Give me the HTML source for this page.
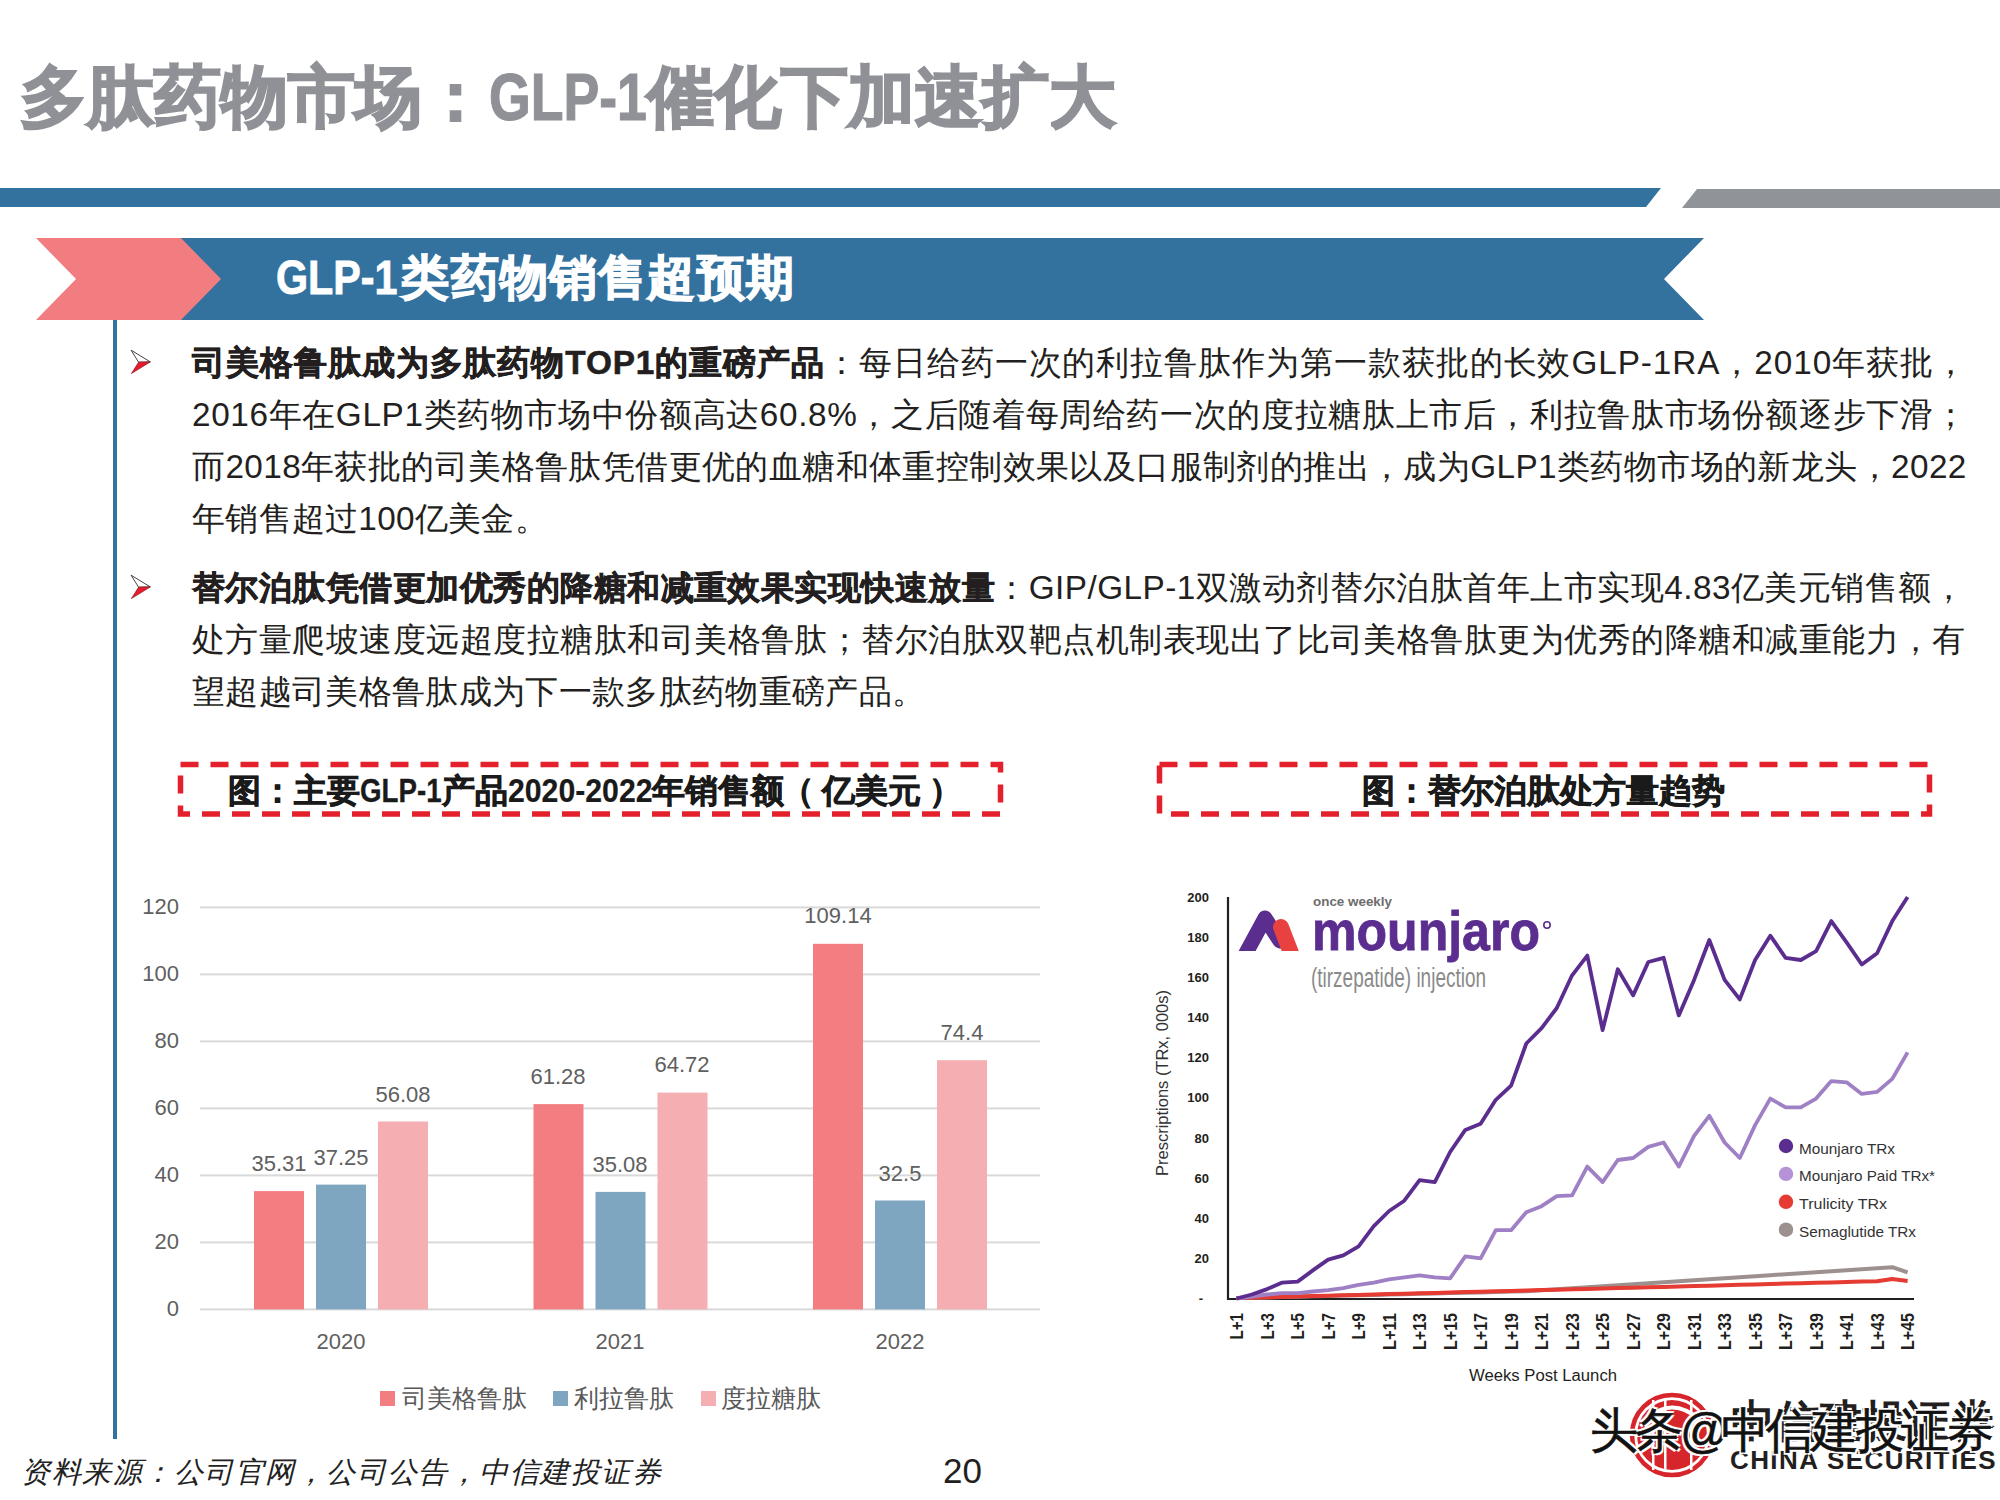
<!DOCTYPE html>
<html><head><meta charset="utf-8">
<style>
html,body{margin:0;padding:0;background:#fff;}
body{width:2000px;height:1500px;position:relative;overflow:hidden;font-family:"Liberation Sans", sans-serif;}
.a{position:absolute;white-space:nowrap;}
.b{font-weight:bold;-webkit-text-stroke:0.6px #231f20;}
.ln{font-size:33.3px;color:#231f20;line-height:40px;}
.dl{font-size:22px;color:#606060;line-height:26px;}
</style></head><body>
<div class="a" id="title" style="left:20px;top:52px;font-size:67px;font-weight:bold;color:#8f9196;line-height:90px;"><span style="-webkit-text-stroke:2px #8f9196">多肽药物市场：</span><span style="display:inline-block;transform:scaleX(0.80);transform-origin:0 0;margin-right:-39px;-webkit-text-stroke:1.2px #8f9196">GLP-1</span><span style="-webkit-text-stroke:2px #8f9196">催化下加速扩大</span></div><svg class="a" style="left:0;top:0" width="2000" height="340">
<polygon points="0,188 1661,188 1646,207 0,207" fill="#33729f"/>
<polygon points="1697,189 2000,189 2000,208 1682,208" fill="#909397"/>
<polygon points="180,238 1704,238 1664,279 1704,320 180,320 220,279" fill="#33729f"/>
<polygon points="36,238 181,238 221,279 181,320 36,320 76,279" fill="#f27d80"/>
</svg><div class="a" id="sub" style="left:276px;top:244.5px;font-size:48px;font-weight:bold;color:#fff;line-height:66px;"><span style="display:inline-block;transform:scaleX(0.86);transform-origin:0 0;margin-right:-16px;-webkit-text-stroke:0.8px #fff">GLP-1</span><span style="-webkit-text-stroke:1.3px #fff;letter-spacing:1.2px">类药物销售超预期</span></div><div class="a" style="left:113px;top:320px;width:4px;height:1119px;background:#33729f"></div><svg class="a" style="left:128px;top:347px" width="26" height="30" viewBox="128 347 26 30">
<polygon points="131.1,350.2 150.3,361.9 138.6,362.2" fill="#fff" stroke="#3a2a2a" stroke-width="0.9"/>
<polygon points="138.6,362.2 150.3,361.9 131.4,373.6" fill="#e8192c" stroke="#8a1a20" stroke-width="0.7"/>
</svg><svg class="a" style="left:128px;top:571.8px" width="26" height="30" viewBox="128 571.8 26 30">
<polygon points="131.1,575.0 150.3,586.6999999999999 138.6,587.0" fill="#fff" stroke="#3a2a2a" stroke-width="0.9"/>
<polygon points="138.6,587.0 150.3,586.6999999999999 131.4,598.4" fill="#e8192c" stroke="#8a1a20" stroke-width="0.7"/>
</svg><div class="a ln" id="ln0" style="left:192px;top:343.2px;letter-spacing:0.93px"><span class="b">司美格鲁肽成为多肽药物TOP1的重磅产品</span>：每日给药一次的利拉鲁肽作为第一款获批的长效GLP-1RA，2010年获批，</div><div class="a ln" id="ln1" style="left:192px;top:395px;letter-spacing:0.632px">2016年在GLP1类药物市场中份额高达60.8%，之后随着每周给药一次的度拉糖肽上市后，利拉鲁肽市场份额逐步下滑；</div><div class="a ln" id="ln2" style="left:192px;top:446.5px;letter-spacing:0.404px">而2018年获批的司美格鲁肽凭借更优的血糖和体重控制效果以及口服制剂的推出，成为GLP1类药物市场的新龙头，2022</div><div class="a ln" id="ln3" style="left:192px;top:498.8px;letter-spacing:0.273px">年销售超过100亿美金。</div><div class="a ln" id="ln4" style="left:192px;top:568px;letter-spacing:0.466px"><span class="b">替尔泊肽凭借更加优秀的降糖和减重效果实现快速放量</span>：GIP/GLP-1双激动剂替尔泊肽首年上市实现4.83亿美元销售额，</div><div class="a ln" id="ln5" style="left:192px;top:619.5px;letter-spacing:0.471px">处方量爬坡速度远超度拉糖肽和司美格鲁肽；替尔泊肽双靶点机制表现出了比司美格鲁肽更为优秀的降糖和减重能力，有</div><div class="a ln" id="ln6" style="left:192px;top:671.5px;letter-spacing:0.333px">望超越司美格鲁肽成为下一款多肽药物重磅产品。</div><svg class="a" style="left:0;top:740px" width="2000" height="100">
<rect x="180.5" y="24.5" width="820" height="49.5" fill="none" stroke="#e3202b" stroke-width="5.5" stroke-dasharray="18 12"/>
<rect x="1159.5" y="24.5" width="770" height="49.5" fill="none" stroke="#e3202b" stroke-width="5.5" stroke-dasharray="18 12"/>
</svg><div class="a" id="ct1" style="left:228px;top:770px;font-size:33px;font-weight:bold;color:#1a1a1a;line-height:42px;"><span style="-webkit-text-stroke:0.7px #1a1a1a">图：主要</span><span style="display:inline-block;transform:scaleX(0.84);transform-origin:0 0;margin-right:-15.5px;-webkit-text-stroke:0.3px #1a1a1a">GLP-1</span><span style="-webkit-text-stroke:0.7px #1a1a1a">产品</span><span style="display:inline-block;transform:scaleX(0.916);transform-origin:0 0;margin-right:-13.3px;-webkit-text-stroke:0.2px #1a1a1a">2020-2022</span><span style="-webkit-text-stroke:0.7px #1a1a1a">年销售额<span style="margin-left:-3px;margin-right:8px">（</span>亿美元<span style="margin-left:8px">）</span></span></div><div class="a" id="ct2" style="left:1362px;top:770px;font-size:33px;font-weight:bold;color:#1a1a1a;-webkit-text-stroke:0.7px #1a1a1a;line-height:42px;">图：替尔泊肽处方量趋势</div><svg class="a" style="left:0;top:0" width="2000" height="1500"><rect x="200" y="1308.4" width="840" height="2" fill="#d9d9d9"/><rect x="200" y="1241.4" width="840" height="2" fill="#d9d9d9"/><rect x="200" y="1174.4" width="840" height="2" fill="#d9d9d9"/><rect x="200" y="1107.4" width="840" height="2" fill="#d9d9d9"/><rect x="200" y="1040.4" width="840" height="2" fill="#d9d9d9"/><rect x="200" y="973.4" width="840" height="2" fill="#d9d9d9"/><rect x="200" y="906.4" width="840" height="2" fill="#d9d9d9"/><rect x="254.0" y="1191.1" width="50" height="118.3" fill="#f27e82"/><rect x="316.0" y="1184.6" width="50" height="124.8" fill="#7fa6c0"/><rect x="378.0" y="1121.5" width="50" height="187.9" fill="#f5aeb1"/><rect x="533.5" y="1104.1" width="50" height="205.3" fill="#f27e82"/><rect x="595.5" y="1191.9" width="50" height="117.5" fill="#7fa6c0"/><rect x="657.5" y="1092.6" width="50" height="216.8" fill="#f5aeb1"/><rect x="813.0" y="943.8" width="50" height="365.6" fill="#f27e82"/><rect x="875.0" y="1200.5" width="50" height="108.9" fill="#7fa6c0"/><rect x="937.0" y="1060.2" width="50" height="249.2" fill="#f5aeb1"/></svg><div class="a dl" style="left:100px;width:79px;text-align:right;top:1296.4px">0</div><div class="a dl" style="left:100px;width:79px;text-align:right;top:1229.4px">20</div><div class="a dl" style="left:100px;width:79px;text-align:right;top:1162.4px">40</div><div class="a dl" style="left:100px;width:79px;text-align:right;top:1095.4px">60</div><div class="a dl" style="left:100px;width:79px;text-align:right;top:1028.4px">80</div><div class="a dl" style="left:100px;width:79px;text-align:right;top:961.4px">100</div><div class="a dl" style="left:100px;width:79px;text-align:right;top:894.4px">120</div><div class="a dl" style="left:219px;width:120px;text-align:center;top:1151px">35.31</div><div class="a dl" style="left:281px;width:120px;text-align:center;top:1145px">37.25</div><div class="a dl" style="left:343px;width:120px;text-align:center;top:1082px">56.08</div><div class="a dl" style="left:498px;width:120px;text-align:center;top:1064px">61.28</div><div class="a dl" style="left:560px;width:120px;text-align:center;top:1152px">35.08</div><div class="a dl" style="left:622px;width:120px;text-align:center;top:1052px">64.72</div><div class="a dl" style="left:778px;width:120px;text-align:center;top:903px">109.14</div><div class="a dl" style="left:840px;width:120px;text-align:center;top:1161px">32.5</div><div class="a dl" style="left:902px;width:120px;text-align:center;top:1020px">74.4</div><div class="a dl" style="left:281px;width:120px;text-align:center;top:1329px">2020</div><div class="a dl" style="left:560px;width:120px;text-align:center;top:1329px">2021</div><div class="a dl" style="left:840px;width:120px;text-align:center;top:1329px">2022</div><div class="a" style="left:380px;top:1391px;width:15px;height:15px;background:#f27e82"></div><div class="a" style="left:402px;top:1381px;font-size:25px;color:#595959;line-height:34px">司美格鲁肽</div><div class="a" style="left:553px;top:1391px;width:15px;height:15px;background:#7fa6c0"></div><div class="a" style="left:574px;top:1381px;font-size:25px;color:#595959;line-height:34px">利拉鲁肽</div><div class="a" style="left:701px;top:1391px;width:15px;height:15px;background:#f5aeb1"></div><div class="a" style="left:721px;top:1381px;font-size:25px;color:#595959;line-height:34px">度拉糖肽</div><svg class="a" style="left:1130px;top:860px" width="830" height="540" viewBox="1130 860 830 540"><path d="M1228,897 L1228,1299 L1914,1299" fill="none" stroke="#231f20" stroke-width="2.2"/><text x="1209" y="1262.9" text-anchor="end" font-family="Liberation Sans" font-weight="bold" font-size="13" fill="#231f20">20</text><text x="1209" y="1222.8" text-anchor="end" font-family="Liberation Sans" font-weight="bold" font-size="13" fill="#231f20">40</text><text x="1209" y="1182.6" text-anchor="end" font-family="Liberation Sans" font-weight="bold" font-size="13" fill="#231f20">60</text><text x="1209" y="1142.5" text-anchor="end" font-family="Liberation Sans" font-weight="bold" font-size="13" fill="#231f20">80</text><text x="1209" y="1102.3" text-anchor="end" font-family="Liberation Sans" font-weight="bold" font-size="13" fill="#231f20">100</text><text x="1209" y="1062.2" text-anchor="end" font-family="Liberation Sans" font-weight="bold" font-size="13" fill="#231f20">120</text><text x="1209" y="1022.1" text-anchor="end" font-family="Liberation Sans" font-weight="bold" font-size="13" fill="#231f20">140</text><text x="1209" y="981.9" text-anchor="end" font-family="Liberation Sans" font-weight="bold" font-size="13" fill="#231f20">160</text><text x="1209" y="941.8" text-anchor="end" font-family="Liberation Sans" font-weight="bold" font-size="13" fill="#231f20">180</text><text x="1209" y="901.6" text-anchor="end" font-family="Liberation Sans" font-weight="bold" font-size="13" fill="#231f20">200</text><text x="1203" y="1302.5" text-anchor="end" font-family="Liberation Sans" font-weight="bold" font-size="13" fill="#231f20">-</text><text transform="translate(1243.1,1339.4) rotate(-90)" font-family="Liberation Sans" font-weight="bold" font-size="17.5" fill="#231f20" textLength="26.4" lengthAdjust="spacingAndGlyphs">L+1</text><text transform="translate(1273.6,1339.4) rotate(-90)" font-family="Liberation Sans" font-weight="bold" font-size="17.5" fill="#231f20" textLength="26.4" lengthAdjust="spacingAndGlyphs">L+3</text><text transform="translate(1304.1,1339.4) rotate(-90)" font-family="Liberation Sans" font-weight="bold" font-size="17.5" fill="#231f20" textLength="26.4" lengthAdjust="spacingAndGlyphs">L+5</text><text transform="translate(1334.6,1339.4) rotate(-90)" font-family="Liberation Sans" font-weight="bold" font-size="17.5" fill="#231f20" textLength="26.4" lengthAdjust="spacingAndGlyphs">L+7</text><text transform="translate(1365.1,1339.4) rotate(-90)" font-family="Liberation Sans" font-weight="bold" font-size="17.5" fill="#231f20" textLength="26.4" lengthAdjust="spacingAndGlyphs">L+9</text><text transform="translate(1395.6,1350.0) rotate(-90)" font-family="Liberation Sans" font-weight="bold" font-size="17.5" fill="#231f20" textLength="37" lengthAdjust="spacingAndGlyphs">L+11</text><text transform="translate(1426.1,1350.0) rotate(-90)" font-family="Liberation Sans" font-weight="bold" font-size="17.5" fill="#231f20" textLength="37" lengthAdjust="spacingAndGlyphs">L+13</text><text transform="translate(1456.6,1350.0) rotate(-90)" font-family="Liberation Sans" font-weight="bold" font-size="17.5" fill="#231f20" textLength="37" lengthAdjust="spacingAndGlyphs">L+15</text><text transform="translate(1487.1,1350.0) rotate(-90)" font-family="Liberation Sans" font-weight="bold" font-size="17.5" fill="#231f20" textLength="37" lengthAdjust="spacingAndGlyphs">L+17</text><text transform="translate(1517.6,1350.0) rotate(-90)" font-family="Liberation Sans" font-weight="bold" font-size="17.5" fill="#231f20" textLength="37" lengthAdjust="spacingAndGlyphs">L+19</text><text transform="translate(1548.1,1350.0) rotate(-90)" font-family="Liberation Sans" font-weight="bold" font-size="17.5" fill="#231f20" textLength="37" lengthAdjust="spacingAndGlyphs">L+21</text><text transform="translate(1578.6,1350.0) rotate(-90)" font-family="Liberation Sans" font-weight="bold" font-size="17.5" fill="#231f20" textLength="37" lengthAdjust="spacingAndGlyphs">L+23</text><text transform="translate(1609.1,1350.0) rotate(-90)" font-family="Liberation Sans" font-weight="bold" font-size="17.5" fill="#231f20" textLength="37" lengthAdjust="spacingAndGlyphs">L+25</text><text transform="translate(1639.6,1350.0) rotate(-90)" font-family="Liberation Sans" font-weight="bold" font-size="17.5" fill="#231f20" textLength="37" lengthAdjust="spacingAndGlyphs">L+27</text><text transform="translate(1670.1,1350.0) rotate(-90)" font-family="Liberation Sans" font-weight="bold" font-size="17.5" fill="#231f20" textLength="37" lengthAdjust="spacingAndGlyphs">L+29</text><text transform="translate(1700.6,1350.0) rotate(-90)" font-family="Liberation Sans" font-weight="bold" font-size="17.5" fill="#231f20" textLength="37" lengthAdjust="spacingAndGlyphs">L+31</text><text transform="translate(1731.1,1350.0) rotate(-90)" font-family="Liberation Sans" font-weight="bold" font-size="17.5" fill="#231f20" textLength="37" lengthAdjust="spacingAndGlyphs">L+33</text><text transform="translate(1761.6,1350.0) rotate(-90)" font-family="Liberation Sans" font-weight="bold" font-size="17.5" fill="#231f20" textLength="37" lengthAdjust="spacingAndGlyphs">L+35</text><text transform="translate(1792.1,1350.0) rotate(-90)" font-family="Liberation Sans" font-weight="bold" font-size="17.5" fill="#231f20" textLength="37" lengthAdjust="spacingAndGlyphs">L+37</text><text transform="translate(1822.6,1350.0) rotate(-90)" font-family="Liberation Sans" font-weight="bold" font-size="17.5" fill="#231f20" textLength="37" lengthAdjust="spacingAndGlyphs">L+39</text><text transform="translate(1853.1,1350.0) rotate(-90)" font-family="Liberation Sans" font-weight="bold" font-size="17.5" fill="#231f20" textLength="37" lengthAdjust="spacingAndGlyphs">L+41</text><text transform="translate(1883.6,1350.0) rotate(-90)" font-family="Liberation Sans" font-weight="bold" font-size="17.5" fill="#231f20" textLength="37" lengthAdjust="spacingAndGlyphs">L+43</text><text transform="translate(1914.1,1350.0) rotate(-90)" font-family="Liberation Sans" font-weight="bold" font-size="17.5" fill="#231f20" textLength="37" lengthAdjust="spacingAndGlyphs">L+45</text><text x="1469" y="1381" font-family="Liberation Sans" font-size="16" fill="#231f20" textLength="148" lengthAdjust="spacingAndGlyphs">Weeks Post Launch</text><text transform="translate(1168,1176) rotate(-90)" font-family="Liberation Sans" font-size="16" fill="#333" textLength="186" lengthAdjust="spacingAndGlyphs">Prescriptions (TRx, 000s)</text><path d="M1236.6,1298.1 L1251.8,1297.8 L1267.1,1297.4 L1282.3,1297.1 L1297.6,1296.7 L1312.8,1296.3 L1328.1,1296.0 L1343.3,1295.6 L1358.6,1295.2 L1373.8,1294.9 L1389.1,1294.5 L1404.3,1294.2 L1419.6,1293.8 L1434.8,1293.4 L1450.1,1293.1 L1465.3,1292.7 L1480.6,1292.4 L1495.8,1292.0 L1511.1,1291.6 L1526.3,1291.3 L1541.6,1290.3 L1556.8,1289.3 L1572.1,1288.3 L1587.3,1287.3 L1602.6,1286.3 L1617.8,1285.3 L1633.1,1284.2 L1648.3,1283.2 L1663.6,1282.2 L1678.8,1281.2 L1694.1,1280.2 L1709.3,1279.2 L1724.6,1278.2 L1739.8,1277.2 L1755.1,1276.2 L1770.3,1275.2 L1785.6,1274.2 L1800.8,1273.2 L1816.1,1272.2 L1831.3,1271.2 L1846.6,1270.2 L1861.8,1269.2 L1877.1,1268.2 L1892.3,1267.2 L1907.6,1272.4" fill="none" stroke="#9c918e" stroke-width="4" stroke-linejoin="round"/><path d="M1236.6,1298.1 L1251.8,1297.7 L1267.1,1297.3 L1282.3,1296.9 L1297.6,1296.5 L1312.8,1296.1 L1328.1,1295.7 L1343.3,1295.3 L1358.6,1294.9 L1373.8,1294.5 L1389.1,1294.1 L1404.3,1293.7 L1419.6,1293.3 L1434.8,1292.9 L1450.1,1292.5 L1465.3,1292.1 L1480.6,1291.7 L1495.8,1291.3 L1511.1,1290.9 L1526.3,1290.5 L1541.6,1290.1 L1556.8,1289.7 L1572.1,1289.3 L1587.3,1288.9 L1602.6,1288.5 L1617.8,1288.1 L1633.1,1287.7 L1648.3,1287.3 L1663.6,1286.9 L1678.8,1286.5 L1694.1,1286.1 L1709.3,1285.7 L1724.6,1285.3 L1739.8,1284.8 L1755.1,1284.4 L1770.3,1284.0 L1785.6,1283.6 L1800.8,1283.2 L1816.1,1282.8 L1831.3,1282.4 L1846.6,1282.0 L1861.8,1281.6 L1877.1,1281.2 L1892.3,1279.0 L1907.6,1281.0" fill="none" stroke="#e53b33" stroke-width="4" stroke-linejoin="round"/><path d="M1236.6,1298.5 L1251.8,1296.5 L1267.1,1294.5 L1282.3,1293.1 L1297.6,1293.1 L1312.8,1291.5 L1328.1,1290.1 L1343.3,1288.1 L1358.6,1284.8 L1373.8,1282.6 L1389.1,1279.4 L1404.3,1277.4 L1419.6,1275.4 L1434.8,1277.4 L1450.1,1278.4 L1465.3,1256.3 L1480.6,1258.3 L1495.8,1230.2 L1511.1,1230.2 L1526.3,1212.2 L1541.6,1206.2 L1556.8,1196.1 L1572.1,1195.3 L1587.3,1166.6 L1602.6,1182.1 L1617.8,1160.0 L1633.1,1158.0 L1648.3,1146.9 L1663.6,1142.5 L1678.8,1166.6 L1694.1,1135.9 L1709.3,1115.8 L1724.6,1142.5 L1739.8,1158.0 L1755.1,1125.1 L1770.3,1098.6 L1785.6,1107.4 L1800.8,1107.4 L1816.1,1098.6 L1831.3,1081.1 L1846.6,1082.3 L1861.8,1093.9 L1877.1,1091.9 L1892.3,1078.9 L1907.6,1052.4" fill="none" stroke="#a080c4" stroke-width="3.8" stroke-linejoin="round"/><path d="M1236.6,1298.5 L1251.8,1294.5 L1267.1,1289.1 L1282.3,1282.6 L1297.6,1281.6 L1312.8,1270.4 L1328.1,1259.6 L1343.3,1255.3 L1358.6,1246.3 L1373.8,1226.2 L1389.1,1211.0 L1404.3,1200.7 L1419.6,1180.1 L1434.8,1182.1 L1450.1,1152.0 L1465.3,1129.9 L1480.6,1123.8 L1495.8,1099.8 L1511.1,1085.7 L1526.3,1043.5 L1541.6,1028.1 L1556.8,1008.0 L1572.1,975.3 L1587.3,955.6 L1602.6,1030.1 L1617.8,969.3 L1633.1,995.4 L1648.3,962.0 L1663.6,957.8 L1678.8,1015.4 L1694.1,979.9 L1709.3,940.0 L1724.6,979.9 L1739.8,999.4 L1755.1,960.0 L1770.3,935.7 L1785.6,957.8 L1800.8,960.0 L1816.1,951.2 L1831.3,921.1 L1846.6,942.4 L1861.8,964.5 L1877.1,953.2 L1892.3,921.1 L1907.6,897.0" fill="none" stroke="#5a2d8f" stroke-width="3.8" stroke-linejoin="round"/><circle cx="1786" cy="1146.0" r="7.2" fill="#5a2d8f"/><text x="1799" y="1153.5" font-family="Liberation Sans" font-size="14.5" fill="#333" textLength="96" lengthAdjust="spacingAndGlyphs">Mounjaro TRx</text><circle cx="1786" cy="1173.9" r="7.2" fill="#b593d6"/><text x="1799" y="1181.4" font-family="Liberation Sans" font-size="14.5" fill="#333" textLength="136" lengthAdjust="spacingAndGlyphs">Mounjaro Paid TRx*</text><circle cx="1786" cy="1201.8" r="7.2" fill="#e53b33"/><text x="1799" y="1209.3" font-family="Liberation Sans" font-size="14.5" fill="#333" textLength="88" lengthAdjust="spacingAndGlyphs">Trulicity TRx</text><circle cx="1786" cy="1229.7" r="7.2" fill="#9c918e"/><text x="1799" y="1237.2" font-family="Liberation Sans" font-size="14.5" fill="#333" textLength="117" lengthAdjust="spacingAndGlyphs">Semaglutide TRx</text><text x="1313" y="906" font-family="Liberation Sans" font-weight="bold" font-size="12.5" fill="#6d6d6d" textLength="79" lengthAdjust="spacingAndGlyphs">once weekly</text><text x="1312" y="950" font-family="Liberation Sans" font-weight="bold" font-size="56" fill="#5a2d8f" stroke="#5a2d8f" stroke-width="0.8" textLength="228" lengthAdjust="spacingAndGlyphs">mounjaro</text><circle cx="1547" cy="925" r="3.2" fill="none" stroke="#5a2d8f" stroke-width="1.6"/><text x="1311" y="987" font-family="Liberation Sans" font-size="27" fill="#8a8a8a" textLength="175" lengthAdjust="spacingAndGlyphs">(tirzepatide) injection</text><clipPath id="lc"><rect x="1230" y="900" width="80" height="51"/></clipPath><g clip-path="url(#lc)"><path d="M1246,953 L1265,918 L1280,941" fill="none" stroke="#5a2d8f" stroke-width="15" stroke-linecap="round" stroke-linejoin="round"/><path d="M1281,927 L1291,953" fill="none" stroke="#e8413f" stroke-width="16" stroke-linecap="round"/></g></svg><div class="a" id="foot" style="left:21px;top:1452px;font-family:'Liberation Serif',serif;font-style:italic;font-size:29px;color:#222;line-height:40px;letter-spacing:1.55px">资料来源：公司官网，公司公告，中信建投证券</div><div class="a" id="pg" style="left:943px;top:1450.5px;font-size:35px;color:#231f20;line-height:40px">20</div><svg class="a" style="left:1620px;top:1380px" width="110" height="110" viewBox="1620 1380 110 110">
<circle cx="1672" cy="1435" r="40" fill="none" stroke="#d7262b" stroke-width="4.5"/>
<circle cx="1672" cy="1435" r="35" fill="#d7262b"/>
<rect x="1652" y="1400" width="2.5" height="70" fill="#fff"/>
<rect x="1664" y="1400" width="2.5" height="70" fill="#fff"/>
<rect x="1690" y="1400" width="2.5" height="70" fill="#fff"/>
<path d="M1645,1420 Q1672,1395 1700,1420" fill="none" stroke="#fff" stroke-width="4"/>
</svg><div class="a" style="left:1731px;top:1396px;font-size:44px;font-weight:bold;color:#231f20;line-height:52px;letter-spacing:0px;font-family:'Liberation Serif',serif">中信建投证券</div><div class="a" style="left:1730px;top:1446.5px;font-size:26px;font-weight:bold;color:#231f20;line-height:26px;letter-spacing:1.4px">CHINA SECURITIES</div><div class="a" style="left:1590px;top:1401px;font-size:48px;color:#111;line-height:60px;-webkit-text-stroke:0.6px #111;text-shadow:2px 2px 0 #fff,-2px -2px 0 #fff,2px -2px 0 #fff,-2px 2px 0 #fff;letter-spacing:-3px">头条<span style="letter-spacing:-8px">@</span>中信建投证券</div></body></html>
